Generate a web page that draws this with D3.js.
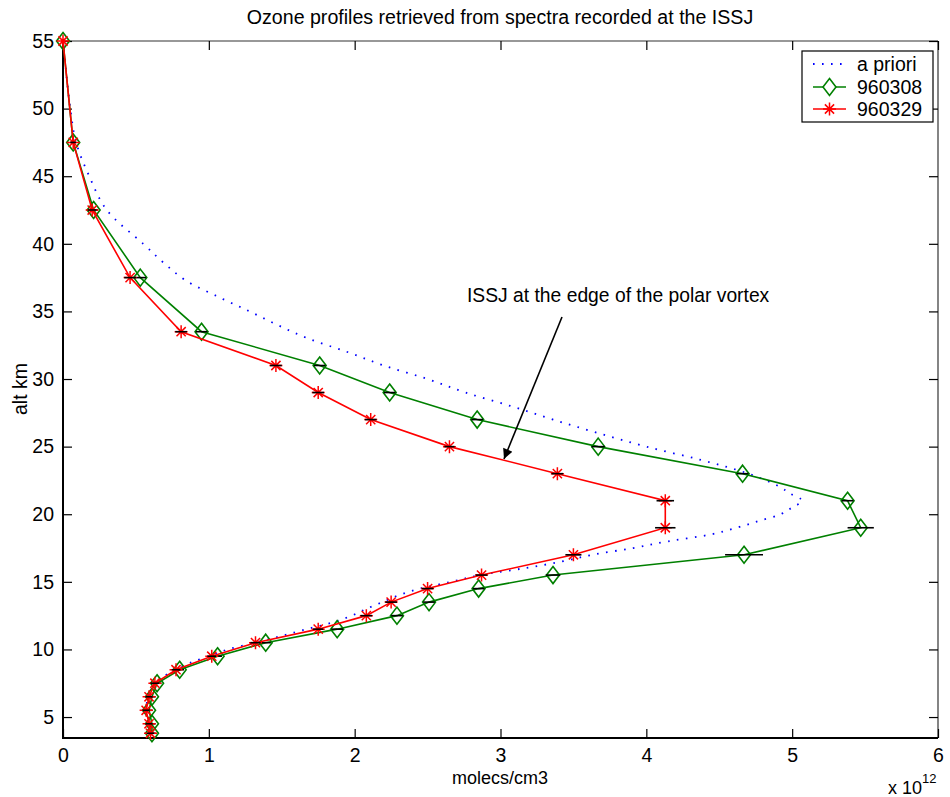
<!DOCTYPE html>
<html><head><meta charset="utf-8">
<script src="https://cdn.jsdelivr.net/npm/d3@7"></script>
<style>
body{margin:0;background:#fff;}
text{font-family:"Liberation Sans",Arial,Helvetica,sans-serif;}
</style></head>
<body>
<svg id="chart" width="950" height="797"></svg>
<script>
// ---- data (values in units of 1e12 molecules/cm3, altitude in km) ----
const altitudes = [55,47.5,42.5,37.5,33.5,31,29,27,25,23,21,19,17,15.5,14.5,13.5,12.5,11.5,10.5,9.5,8.5,7.5,6.5,5.5,4.5,3.8];
const series960308 = [0,0.07,0.21,0.53,0.95,1.76,2.24,2.84,3.67,4.66,5.38,5.47,4.67,3.36,2.85,2.51,2.29,1.88,1.39,1.06,0.80,0.645,0.61,0.59,0.61,0.61];
const err960308    = [0,0.02,0.03,0.04,0.04,0.04,0.04,0.04,0.045,0.04,0.04,0.09,0.13,0.05,0.04,0.04,0.04,0.04,0.035,0.03,0.03,0.03,0.025,0.025,0.025,0.025];
const series960329 = [0,0.07,0.20,0.46,0.81,1.46,1.75,2.11,2.65,3.39,4.13,4.13,3.50,2.87,2.50,2.25,2.08,1.75,1.32,1.02,0.775,0.63,0.59,0.57,0.59,0.60];
const err960329    = [0,0.02,0.03,0.04,0.04,0.04,0.04,0.04,0.035,0.04,0.06,0.07,0.055,0.04,0.04,0.04,0.04,0.035,0.035,0.03,0.03,0.03,0.025,0.025,0.025,0.025];
const aprioriAlt = [55,50,47.5,45,42.5,40,38.6,37.3,36,35,34,33,32,31,30,29,28,27,26,25,24,23,22,21.5,21,20.5,20,19.5,19,18.5,18,17.5,17,16.5,16,15.5,15,14.5,14,13.5,13,12.5,12,11.5,11,10.5,10,9.5,9,8.5,8,7.5,7,6.5,6,5.5,5,4.5,4,3.8];
const aprioriVal = [0,0.05,0.09,0.18,0.30,0.55,0.69,0.84,1.08,1.28,1.47,1.68,1.95,2.20,2.50,2.76,3.07,3.36,3.67,4.00,4.38,4.70,4.92,4.99,5.07,5.00,4.92,4.77,4.62,4.44,4.15,3.91,3.63,3.42,3.16,2.86,2.66,2.45,2.30,2.19,2.08,1.98,1.85,1.67,1.50,1.32,1.13,1.00,0.87,0.77,0.69,0.63,0.60,0.58,0.575,0.57,0.58,0.59,0.60,0.60];
const xTicks = [0,1,2,3,4,5,6];
const yTicks = [5,10,15,20,25,30,35,40,45,50,55];
const legendLabels = ["a priori","960308","960329"];

// ---- layout ----
const L=63, R=938, T=41, B=738;
const FS=19.5;
const svg = d3.select("#chart");
const x = d3.scaleLinear().domain([0,6]).range([L,R]);
const y = d3.scaleLinear().domain([3.45,55]).range([B,T]);

// axes box
svg.append("line").attr("x1",L).attr("x2",R).attr("y1",T).attr("y2",T).attr("stroke","#333").attr("stroke-width",1.2);
svg.append("line").attr("x1",R).attr("x2",R).attr("y1",T).attr("y2",B).attr("stroke","#333").attr("stroke-width",1.2);

const tl=9;
const xAxis = svg.append("g").attr("transform",`translate(0,${B})`)
  .call(d3.axisBottom(x).tickValues(xTicks).tickFormat(d3.format("d")).tickSizeInner(-tl).tickSizeOuter(0).tickPadding(10));
const xAxisTop = svg.append("g").attr("transform",`translate(0,${T})`)
  .call(d3.axisTop(x).tickValues(xTicks).tickFormat("").tickSizeInner(-tl).tickSizeOuter(0));
const yAxis = svg.append("g").attr("transform",`translate(${L},0)`)
  .call(d3.axisLeft(y).tickValues(yTicks).tickFormat(d3.format("d")).tickSizeInner(-tl).tickSizeOuter(0).tickPadding(9));
const yAxisR = svg.append("g").attr("transform",`translate(${R},0)`)
  .call(d3.axisRight(y).tickValues(yTicks).tickFormat("").tickSizeInner(-tl).tickSizeOuter(0));
[xAxis,xAxisTop,yAxis,yAxisR].forEach(g=>{
  g.select(".domain").remove();
  g.selectAll(".tick line").attr("stroke","#000").attr("stroke-width",1.2);
  g.selectAll("text").attr("font-size",FS).attr("fill","#000").attr("font-family","'Liberation Sans',Arial,sans-serif");
});
svg.append("line").attr("x1",L).attr("x2",L).attr("y1",T).attr("y2",B+1).attr("stroke","#000").attr("stroke-width",2);
svg.append("line").attr("x1",L-1).attr("x2",R).attr("y1",B).attr("y2",B).attr("stroke","#000").attr("stroke-width",2);

// a priori dotted
const line = d3.line().x(d=>x(d[0])).y(d=>y(d[1]));
svg.append("path").datum(aprioriVal.map((v,i)=>[v,aprioriAlt[i]]))
  .attr("d",line.curve(d3.curveCatmullRom.alpha(0.5))).attr("fill","none")
  .attr("stroke","#0000ff").attr("stroke-width",1.8).attr("stroke-dasharray","1.6,7.4");

const lineL = d3.line().x(d=>x(d[0])).y(d=>y(d[1]));
function drawSeries(vals, errs, color, marker){
  const pts = vals.map((v,i)=>[v,altitudes[i],errs[i]]);
  svg.append("path").datum(pts).attr("d",lineL).attr("fill","none").attr("stroke",color).attr("stroke-width",1.6);
  const g = svg.append("g");
  pts.forEach(p=>{
    const cx=x(p[0]), cy=y(p[1]);
    if(marker==="diamond"){
      g.append("path").attr("d",`M${cx},${cy-8.5}L${cx+6.5},${cy}L${cx},${cy+8.5}L${cx-6.5},${cy}Z`)
        .attr("fill","none").attr("stroke",color).attr("stroke-width",1.6);
    } else {
      const r=6.5, d=4.6;
      g.append("path").attr("d",`M${cx},${cy-r}V${cy+r}M${cx-r},${cy}H${cx+r}M${cx-d},${cy-d}L${cx+d},${cy+d}M${cx-d},${cy+d}L${cx+d},${cy-d}`)
        .attr("stroke",color).attr("stroke-width",1.5);
    }
    if(p[2]>0){
      g.append("line").attr("x1",x(p[0]-p[2])).attr("x2",x(p[0]+p[2])).attr("y1",cy).attr("y2",cy)
        .attr("stroke","#000").attr("stroke-width",1.6);
    }
  });
}
drawSeries(series960308, err960308, "#008000", "diamond");
drawSeries(series960329, err960329, "#ff0000", "star");

// annotation
svg.append("defs").append("marker").attr("id","ah").attr("viewBox","0 0 10 10").attr("refX",10).attr("refY",5)
  .attr("markerWidth",14).attr("markerHeight",10).attr("markerUnits","userSpaceOnUse").attr("orient","auto")
  .append("path").attr("d","M0,0L10,5L0,10Z").attr("fill","#000");
svg.append("line").attr("x1",562).attr("y1",317).attr("x2",504).attr("y2",459)
  .attr("stroke","#000").attr("stroke-width",1.6).attr("marker-end","url(#ah)");
svg.append("text").attr("x",467).attr("y",302).attr("font-size",19.3).text("ISSJ at the edge of the polar vortex");

// titles
svg.append("text").attr("x",500).attr("y",24).attr("text-anchor","middle").attr("font-size",19.6)
  .text("Ozone profiles retrieved from spectra recorded at the ISSJ");
svg.append("text").attr("x",500).attr("y",783.5).attr("text-anchor","middle").attr("font-size",18).text("molecs/cm3");
svg.append("text").attr("transform","translate(27,389) rotate(-90)").attr("text-anchor","middle").attr("font-size",FS).text("alt km");
const ex = svg.append("text").attr("x",888).attr("y",794).attr("font-size",18);
ex.append("tspan").text("x 10");
ex.append("tspan").attr("dy",-11).attr("font-size",13).text("12");

// legend
const lg = svg.append("g");
lg.append("rect").attr("x",802).attr("y",51).attr("width",131).attr("height",71).attr("fill","#fff").attr("stroke","#000").attr("stroke-width",1.2);
const rows=[64,87,109];
legendLabels.forEach((t,i)=>{
  lg.append("text").attr("x",857).attr("y",rows[i]+7).attr("font-size",FS).text(t);
});
lg.append("line").attr("x1",813).attr("x2",846).attr("y1",rows[0]).attr("y2",rows[0]).attr("stroke","#0000ff").attr("stroke-width",1.8).attr("stroke-dasharray","1.6,7.4");
lg.append("line").attr("x1",813).attr("x2",846).attr("y1",rows[1]).attr("y2",rows[1]).attr("stroke","#008000").attr("stroke-width",1.6);
{const cx=829.5,cy=rows[1];lg.append("path").attr("d",`M${cx},${cy-8.5}L${cx+6.5},${cy}L${cx},${cy+8.5}L${cx-6.5},${cy}Z`).attr("fill","#fff").attr("stroke","#008000").attr("stroke-width",1.6);}
lg.append("line").attr("x1",813).attr("x2",846).attr("y1",rows[2]).attr("y2",rows[2]).attr("stroke","#ff0000").attr("stroke-width",1.6);
{const cx=829.5,cy=rows[2],r=6.5,d=4.6;lg.append("path").attr("d",`M${cx},${cy-r}V${cy+r}M${cx-r},${cy}H${cx+r}M${cx-d},${cy-d}L${cx+d},${cy+d}M${cx-d},${cy+d}L${cx+d},${cy-d}`).attr("stroke","#ff0000").attr("stroke-width",1.5);}
</script>
</body></html>
